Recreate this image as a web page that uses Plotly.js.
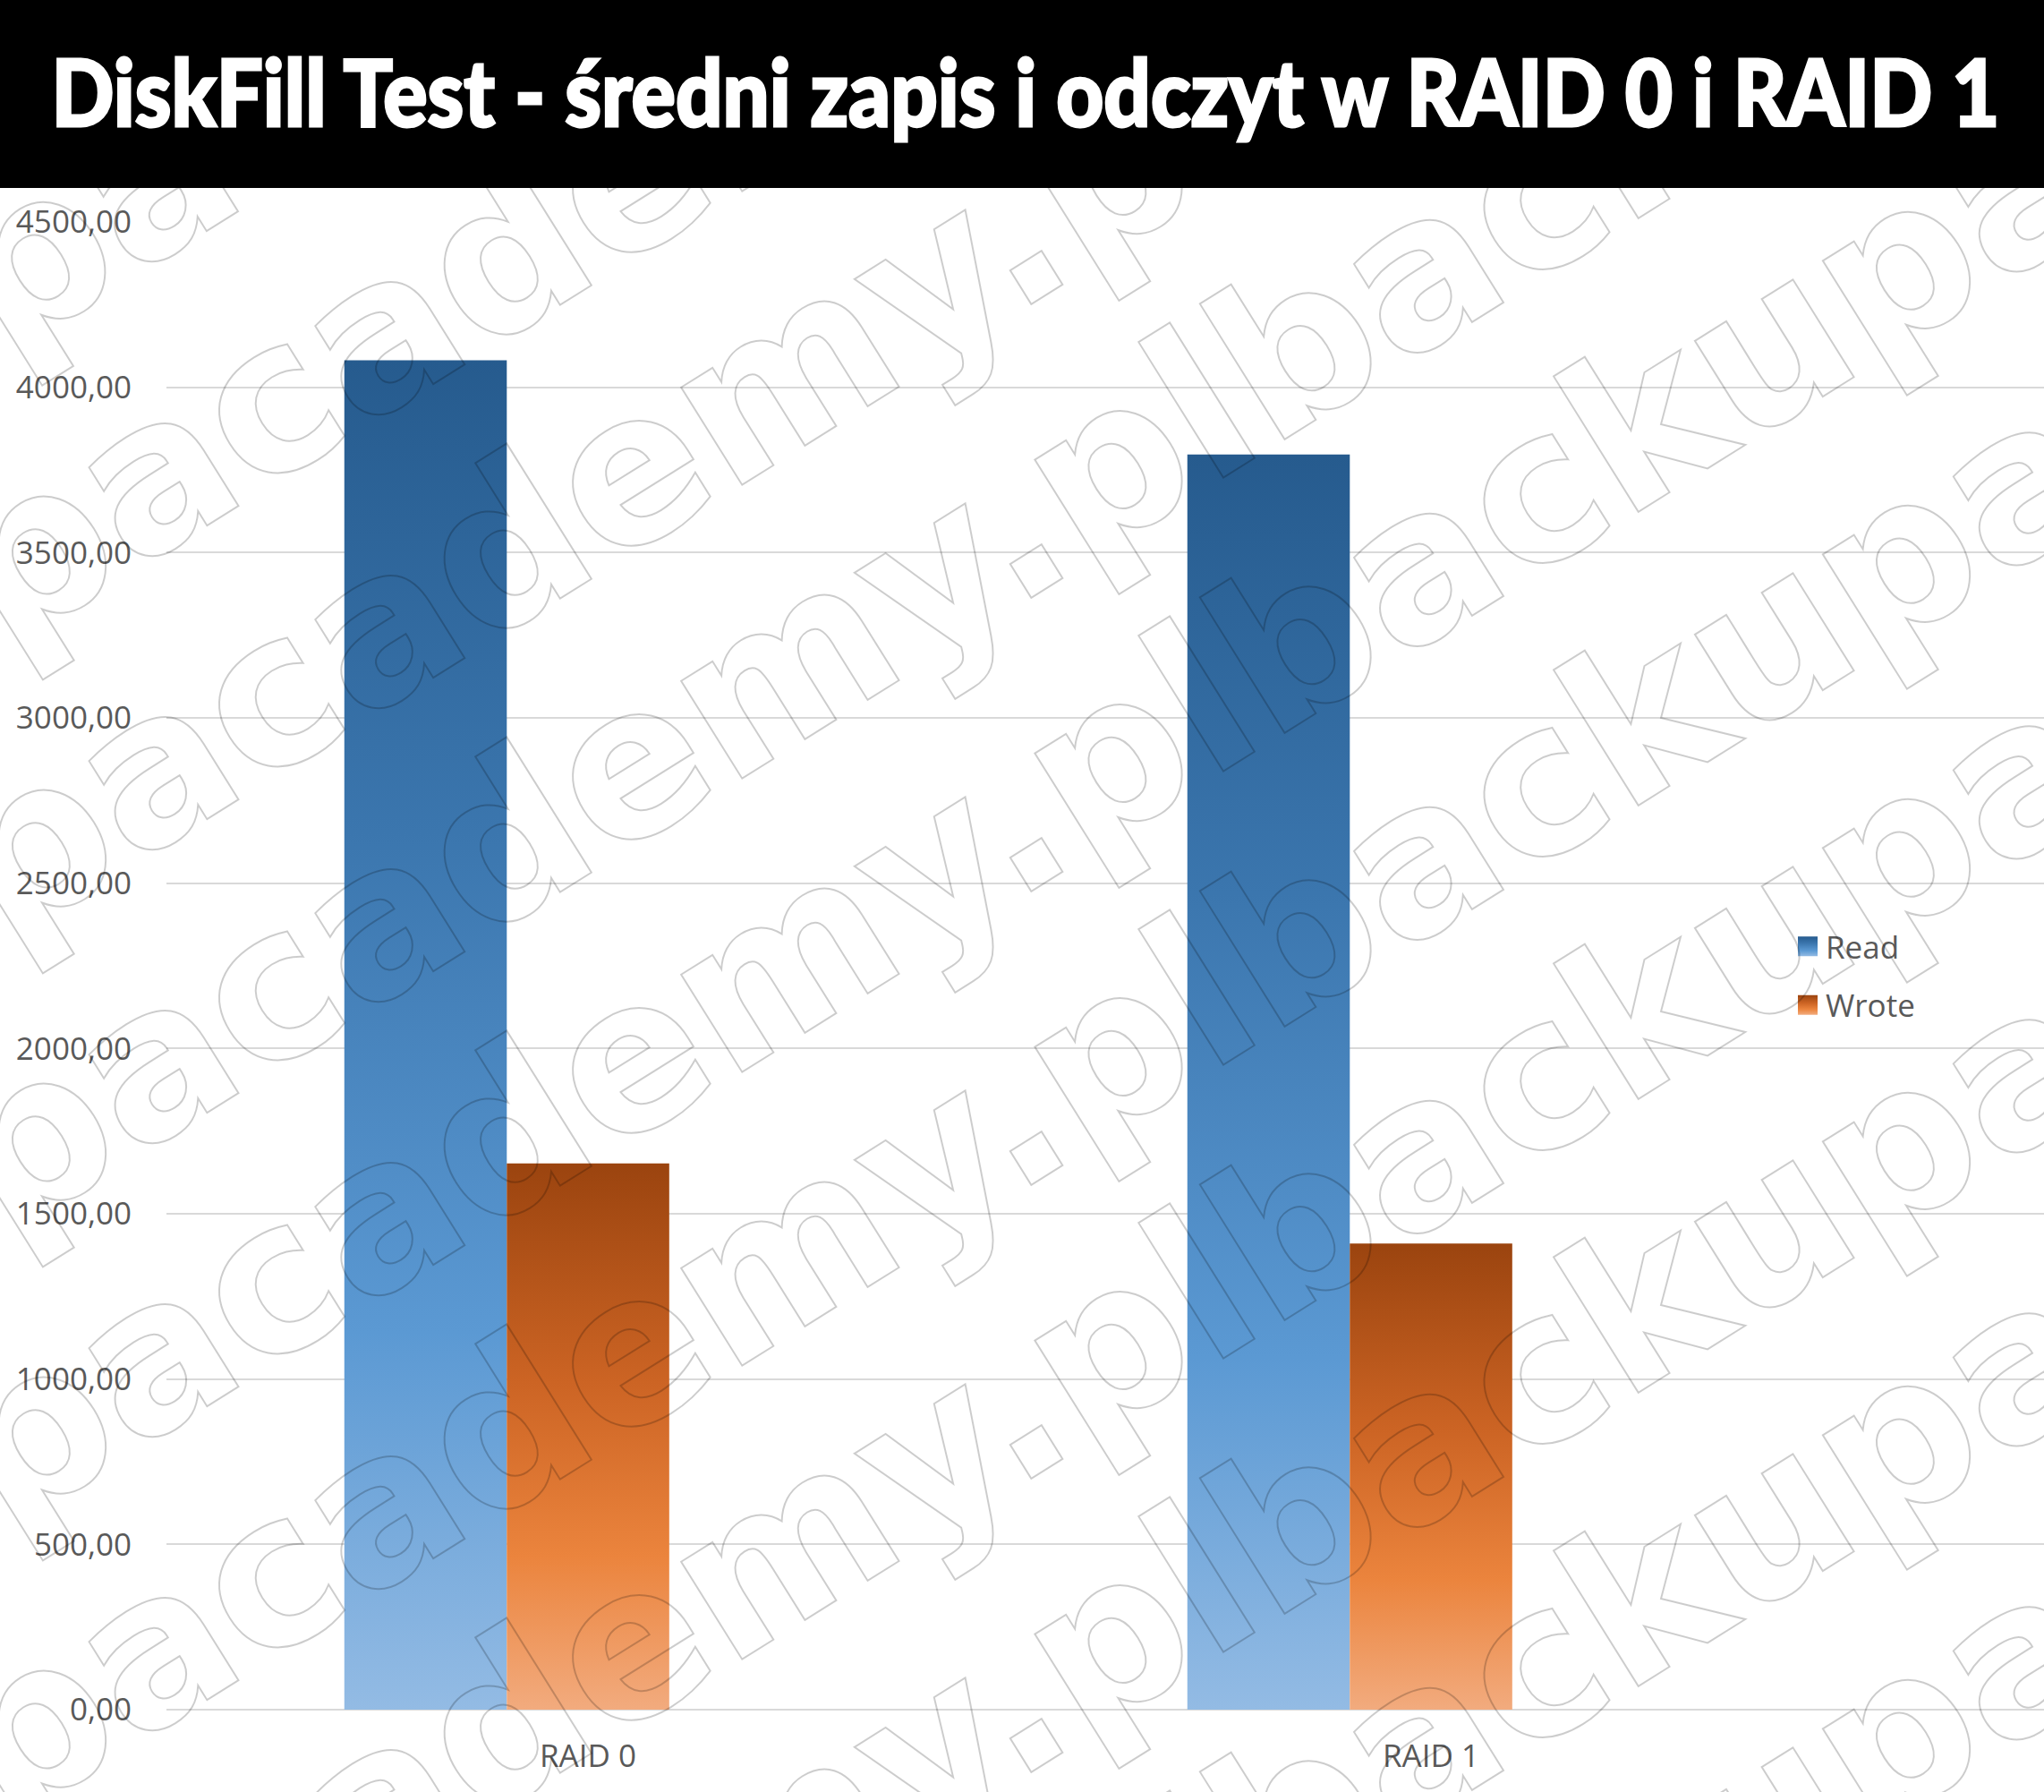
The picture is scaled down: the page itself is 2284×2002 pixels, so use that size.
<!DOCTYPE html>
<html>
<head>
<meta charset="utf-8">
<script src="https://cdn.plot.ly/plotly-3.0.1.min.js"></script>
<style>
html,body{margin:0;padding:0;background:#fff;}
#chart{width:2284px;height:2002px;}
</style>
</head>
<body>
<div id="chart"></div>
<script>
// ---- data ----
const chartTitle = 'DiskFill Test - średni zapis i odczyt w RAID 0 i RAID 1';
const categories = ['RAID 0', 'RAID 1'];
const seriesNames = ['Read', 'Wrote'];
const readValues = [4082, 3797];
const wroteValues = [1652, 1410];
const watermarkText = 'backupacademy.pl';

// ---- geometry (pixels) ----
const W = 2284, H = 2002, ML = 186, MT = 248, MB = 92;
const plotW = W - ML, plotH = H - MT - MB;
const pxX = px => (px - ML) / plotW;
const pxY = py => (H - MB - py) / plotH;

const barWidth = 0.1927;
const readOffset = -0.289;
const wroteOffset = -0.0963;

const data = [
  {type:'bar', name:seriesNames[0], x:categories, y:readValues,
   width:barWidth, offset:readOffset, marker:{color:'#4a86c0', line:{width:0}},
   legendgroup:'a'},
  {type:'bar', name:seriesNames[1], x:categories, y:wroteValues,
   width:barWidth, offset:wroteOffset, marker:{color:'#d46a27', line:{width:0}},
   legendgroup:'b'}
];

const annotations = [];
for (let k = -3; k <= 9; k++) {
  annotations.push({
    xref:'paper', yref:'paper', x:pxX(333), y:pxY(755 + 328*k),
    text: watermarkText.repeat(3), textangle:-32, showarrow:false,
    xanchor:'center', yanchor:'middle',
    font:{family:'DejaVu Sans', size:235, weight:700, color:'rgba(0,0,0,0.2)'}
  });
}

const layout = {
  width:W, height:H,
  margin:{l:ML, r:0, t:MT, b:MB, pad:0},
  paper_bgcolor:'#ffffff', plot_bgcolor:'rgba(0,0,0,0)',
  separators:', ',
  barmode:'overlay',
  showlegend:true,
  title:{text:chartTitle, xref:'container', yref:'container',
         x:1146/W, y:(H-105)/H, xanchor:'center', yanchor:'middle',
         font:{family:'Lato, Liberation Sans, Arial, sans-serif', size:103, weight:900, color:'#ffffff'}},
  xaxis:{type:'category', range:[-0.5, -0.5 + plotW/942], showgrid:false, zeroline:false,
         showline:false, ticks:'', ticklabelstandoff:28,
         tickfont:{family:'Open Sans', size:35, color:'#595959'}, fixedrange:true},
  yaxis:{range:[0,4500], dtick:500, tick0:0, tickformat:'.2f', showgrid:true,
         gridcolor:'#d9d9d9', gridwidth:2, zeroline:true, zerolinecolor:'#d9d9d9', zerolinewidth:2,
         showline:false, ticks:'', ticklabelstandoff:38,
         tickfont:{family:'Open Sans', size:35, color:'#595959'}, fixedrange:true},
  legend:{x:pxX(2000), y:pxY(1090), xanchor:'left', yanchor:'middle',
          bgcolor:'rgba(0,0,0,0)', borderwidth:0, traceorder:'grouped', tracegroupgap:17,
          font:{family:'Open Sans', size:35, color:'#595959'}},
  shapes:[{type:'rect', xref:'paper', yref:'paper', x0:pxX(-20), x1:pxX(W+20),
           y0:pxY(210), y1:pxY(-20), fillcolor:'#000000', line:{width:0}, layer:'above'}],
  annotations:annotations
};

const gd = document.getElementById('chart');
Plotly.newPlot(gd, data, layout, {staticPlot:true, displayModeBar:false}).then(() => {
  const svg = gd.querySelector('svg.main-svg');
  const defs = svg.querySelector('defs');
  const NS = 'http://www.w3.org/2000/svg';
  const grads = [
    [[0,'#265b8e'],[0.35,'#3b76ae'],[0.72,'#5b99d3'],[1,'#93bbe4']],
    [[0,'#9b440f'],[0.4,'#cc6424'],[0.72,'#eb843d'],[1,'#f2ab7e']]
  ];
  grads.forEach((stops, i) => {
    const g = document.createElementNS(NS, 'linearGradient');
    g.setAttribute('id', 'barGrad' + i);
    g.setAttribute('x1','0'); g.setAttribute('y1','0');
    g.setAttribute('x2','0'); g.setAttribute('y2','1');
    stops.forEach(([o,c]) => {
      const s = document.createElementNS(NS, 'stop');
      s.setAttribute('offset', o); s.setAttribute('stop-color', c);
      g.appendChild(s);
    });
    defs.appendChild(g);
  });
  const cp = document.createElementNS(NS, 'clipPath');
  cp.setAttribute('id', 'wmClip');
  const r = document.createElementNS(NS, 'rect');
  r.setAttribute('x', 0); r.setAttribute('y', 210);
  r.setAttribute('width', W); r.setAttribute('height', H - 210);
  cp.appendChild(r); defs.appendChild(cp);

  gd.querySelectorAll('.barlayer .trace').forEach((tr, i) => {
    tr.querySelectorAll('path').forEach(p => { p.style.fill = 'url(#barGrad' + i + ')'; });
  });
  gd.querySelectorAll('.legend .traces').forEach((tr, i) => {
    tr.querySelectorAll('.legendpoints path').forEach(p => {
      p.setAttribute('d', 'M11,11H-11V-11H11Z');
      p.style.fill = 'url(#barGrad' + i + ')';
      p.style.stroke = 'none';
    });
  });
  gd.querySelectorAll('g.annotation').forEach(g => {
    g.setAttribute('clip-path', 'url(#wmClip)');
    g.querySelectorAll('text').forEach(t => {
      t.style.fill = 'none';
      t.style.stroke = 'rgba(0,0,0,0.2)';
      t.style.strokeWidth = '2px';
    });
  });
  const tt = gd.querySelector('.gtitle');
  if (tt) {
    tt.setAttribute('textLength', 2177);
    tt.setAttribute('lengthAdjust', 'spacingAndGlyphs');
    tt.style.stroke = '#ffffff';
    tt.style.strokeWidth = '3px';
  }
});
</script>
</body>
</html>
